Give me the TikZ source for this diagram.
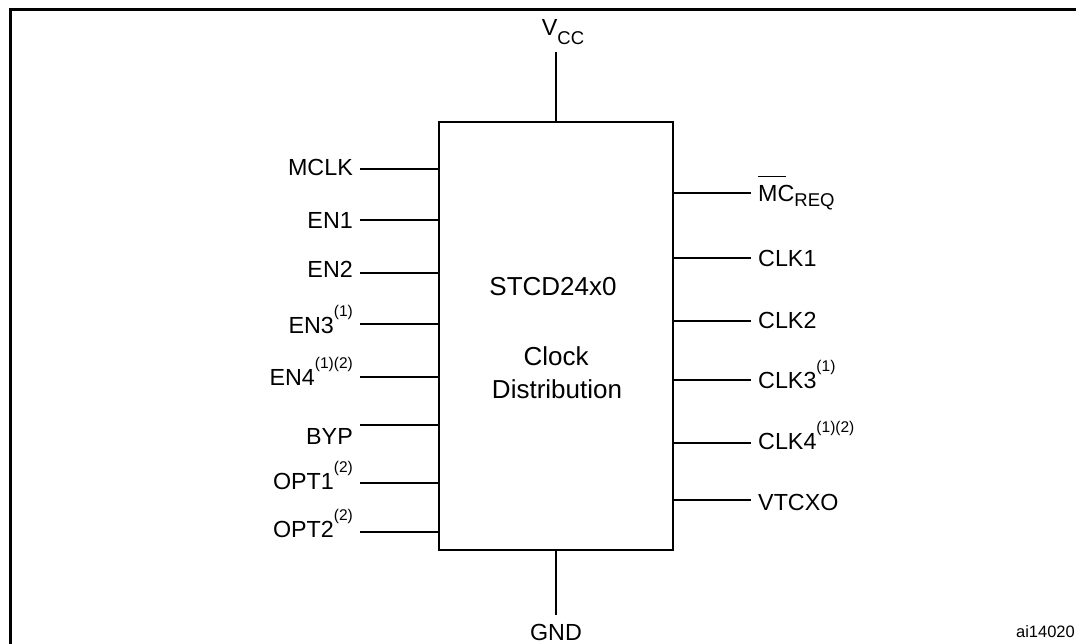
\documentclass[tikz,border=0pt]{standalone}
\usepackage{fontspec}
\setmainfont{Liberation Sans}
\usetikzlibrary{calc}
\def\Sup#1{\raisebox{17pt}{\fontsize{15.5}{17}\selectfont #1}}
\def\Sub#1#2{\raisebox{-#1}{\fontsize{18.5}{20}\selectfont #2}}
\def\Ovl#1{\setbox0\hbox{#1}\rlap{\rule[\dimexpr\ht0+9pt\relax]{\dimexpr\wd0-8pt\relax}{1.2pt}}\box0}
\def\LeftPin#1#2#3#4{%
 \coordinate (#1) at (360,#2);
 \draw[pin line] (#1) -- (#1 -| chip.west);
 \node[left label] (l#1) at (353,#3) {#4};
}
\def\RightPin#1#2#3#4{%
 \coordinate (#1) at (751,#2);
 \draw[pin line] (#1 -| chip.east) -- (#1);
 \node[right label] (l#1) at (758,#3) {#4};
}
\tikzset{x=1pt, y=-1pt,
  every node/.style={inner sep=0pt, font=\fontsize{23.3}{27}\selectfont},
  pin line/.style={line width=1.2pt},
  chip box/.style={draw, line width=2.4pt, minimum width=234pt, minimum height=428pt},
  chip text/.style={anchor=base, font=\fontsize{26}{30}\selectfont},
  left label/.style={anchor=base east},
  right label/.style={anchor=base west},
  frame line/.style={line width=3pt}
}
\begin{document}
\begin{tikzpicture}
\useasboundingbox (0,0) rectangle (1076,644);
\draw[frame line] (10,644) -- (10,10) -- (1076,10);
\node[chip box] (chip) at (556,336) {};
\node[chip text] (partno) at (553,295) {STCD24x0};
\node[chip text] (func1) at (556,365) {Clock};
\node[chip text] (func2) at (557,398) {Distribution};
% supply pins
\coordinate (vcc) at (556,52);
\draw[pin line] (vcc) -- (chip.north);
\node[anchor=base] (lvcc) at (563,36) {V\Sub{9pt}{CC}};
\coordinate (gnd) at (556,615);
\draw[pin line] (chip.south) -- (gnd);
\node[anchor=base] (lgnd) at (556,640) {GND};
% inputs
\LeftPin{mclk}{169}{176}{MCLK}
\LeftPin{enA}{220}{229}{EN1}
\LeftPin{enB}{273}{278}{EN2}
\LeftPin{enC}{324}{333}{EN3\Sup{(1)}}
\LeftPin{enD}{377}{385}{EN4\Sup{(1)(2)}}
\LeftPin{byp}{425}{444}{BYP}
\LeftPin{optA}{483}{489}{OPT1\Sup{(2)}}
\LeftPin{optB}{532}{537}{OPT2\Sup{(2)}}
% outputs
\RightPin{mcreq}{193}{202}{\Ovl{MC}\Sub{5pt}{REQ}}
\RightPin{clkA}{258}{267}{CLK1}
\RightPin{clkB}{321}{328}{CLK2}
\RightPin{clkC}{380}{388}{CLK3\Sup{(1)}}
\RightPin{clkD}{443}{449}{CLK4\Sup{(1)(2)}}
\RightPin{vtcxo}{500}{510}{VTCXO}
\node[anchor=base east, font=\fontsize{16.5}{18}\selectfont] (figid) at (1075,637) {ai14020};
\end{tikzpicture}
\end{document}
